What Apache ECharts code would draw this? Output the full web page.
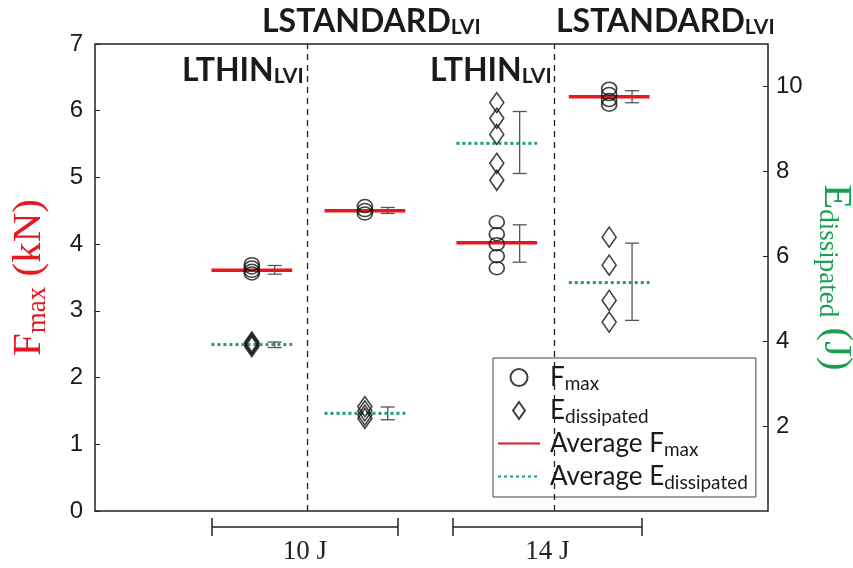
<!DOCTYPE html>
<html>
<head>
<meta charset="utf-8">
<script src="https://cdn.jsdelivr.net/npm/echarts@6/dist/echarts.min.js"></script>
<style>
html, body { margin: 0; padding: 0; background: #fff; }
#main { width: 853px; height: 568px; }
</style>
</head>
<body>
<div id="main"></div>
<script>
// x position of each specimen group (LTHIN 10J, LSTANDARD 10J, LTHIN 14J, LSTANDARD 14J)
var groupX = [2.33, 4.01, 5.97, 7.64];
var sepX = [3.16, 6.83];

// peak force, kN
var fmaxPoints = [
	[3.56, 3.60, 3.65, 3.70],
	[4.46, 4.51, 4.57],
	[3.64, 3.82, 4.00, 4.15, 4.33],
	[6.09, 6.16, 6.25, 6.33]
];
var fmaxAvg = [3.61, 4.50, 4.02, 6.21];
var fmaxErr = [[3.55, 3.68], [4.46, 4.55], [3.73, 4.29], [6.12, 6.30]];

// dissipated energy, J
var edisPoints = [
	[3.87, 3.91, 3.95, 3.98],
	[2.18, 2.26, 2.36, 2.46],
	[7.79, 8.19, 8.87, 9.25, 9.62],
	[4.45, 4.96, 5.79, 6.45]
];
var edisAvg = [3.92, 2.30, 8.66, 5.38];
var edisErr = [[3.85, 3.98], [2.15, 2.45], [7.95, 9.41], [4.49, 6.31]];

var RED = '#e8161e';
var GREEN = '#1e9e6e';
var NAME_GREEN = '#18a050';
var HALF = 0.6;     // half length of the average lines
var ERR_DX = 0.34;  // error bar offset from the markers

var myChart = echarts.init(document.getElementById('main'));

function pts(groups) {
	var out = [];
	groups.forEach(function (vals, i) {
		vals.forEach(function (v) { out.push([groupX[i], v]); });
	});
	return out;
}

function errBar(params, api) {
	var x = api.value(0);
	var p1 = api.coord([x, api.value(1)]);
	var p2 = api.coord([x, api.value(2)]);
	var w = 7;
	var st = { stroke: '#555', lineWidth: 1.3 };
	return {
		type: 'group',
		children: [
			{ type: 'line', shape: { x1: p1[0], y1: p1[1], x2: p2[0], y2: p2[1] }, style: st },
			{ type: 'line', shape: { x1: p1[0] - w, y1: p1[1], x2: p1[0] + w, y2: p1[1] }, style: st },
			{ type: 'line', shape: { x1: p2[0] - w, y1: p2[1], x2: p2[0] + w, y2: p2[1] }, style: st }
		]
	};
}

var series = [];

fmaxAvg.forEach(function (m, i) {
	series.push({
		name: 'Average Fmax',
		type: 'line',
		symbol: 'none',
		z: 2,
		lineStyle: { color: RED, width: 3.5 },
		itemStyle: { color: RED },
		data: [[groupX[i] - HALF, m], [groupX[i] + HALF, m]]
	});
});
edisAvg.forEach(function (m, i) {
	series.push({
		name: 'Average Edissipated',
		type: 'line',
		yAxisIndex: 1,
		symbol: 'none',
		z: 2,
		lineStyle: { color: GREEN, width: 3, type: [3, 3] },
		itemStyle: { color: GREEN },
		data: [[groupX[i] - HALF, m], [groupX[i] + HALF, m]]
	});
});

series.push({
	name: 'Fmax',
	type: 'scatter',
	symbol: 'circle',
	symbolSize: [15, 13],
	z: 3,
	itemStyle: { color: 'rgba(0,0,0,0)', borderColor: '#111', borderWidth: 1.6 },
	data: pts(fmaxPoints),
	markLine: {
		silent: true,
		symbol: 'none',
		label: { show: false },
		lineStyle: { color: '#222', width: 1.3, type: [6, 5] },
		data: sepX.map(function (x) { return { xAxis: x }; })
	}
});
series.push({
	name: 'Edissipated',
	type: 'scatter',
	yAxisIndex: 1,
	symbol: 'diamond',
	symbolSize: [14, 20],
	z: 3,
	itemStyle: { color: 'rgba(0,0,0,0)', borderColor: '#111', borderWidth: 1.6 },
	data: pts(edisPoints)
});

series.push({
	type: 'custom',
	renderItem: errBar,
	z: 1,
	encode: { x: 0, y: [1, 2] },
	data: fmaxErr.map(function (e, i) { return [groupX[i] + ERR_DX, e[0], e[1]]; })
});
series.push({
	type: 'custom',
	yAxisIndex: 1,
	renderItem: errBar,
	z: 1,
	encode: { x: 0, y: [1, 2] },
	data: edisErr.map(function (e, i) { return [groupX[i] + ERR_DX, e[0], e[1]]; })
});

var legendText = {
	'Fmax': 'F{sub|max}',
	'Edissipated': 'E{sub|dissipated}',
	'Average Fmax': 'Average F{sub|max}',
	'Average Edissipated': 'Average E{sub|dissipated}'
};

var topLbl = {
	fontFamily: 'Lato',
	fontWeight: 'bold',
	fontSize: 32,
	fill: '#1a1a1a',
	rich: {
		s: { fontFamily: 'Lato', fontWeight: 'bold', fontSize: 21, lineHeight: 14, verticalAlign: 'bottom' }
	}
};

function bracket(x1, x2, label) {
	var y = 527;
	var st = { stroke: '#222', lineWidth: 1.5 };
	return [
		{ type: 'line', shape: { x1: x1, y1: y, x2: x2, y2: y }, style: st },
		{ type: 'line', shape: { x1: x1, y1: y - 9, x2: x1, y2: y + 9 }, style: st },
		{ type: 'line', shape: { x1: x2, y1: y - 9, x2: x2, y2: y + 9 }, style: st },
		{ type: 'text', x: (x1 + x2) / 2, y: 552, style: { text: label, fontFamily: 'Liberation Serif', fontSize: 27, fill: '#222', align: 'center', verticalAlign: 'middle' } }
	];
}

var axisNameStyle = function (color) {
	return {
		fontFamily: 'Liberation Serif',
		fontSize: 41,
		color: color,
		lineHeight: 44,
		rich: { sub: { fontFamily: 'Liberation Serif', fontSize: 27, color: color, lineHeight: 20, verticalAlign: 'bottom' } }
	};
};

var option = {
	animation: false,
	backgroundColor: '#fff',
	grid: {
		left: 95, right: 85, top: 44, bottom: 57,
		outerBoundsMode: 'none',
		show: true, borderColor: '#222', borderWidth: 1.5, backgroundColor: 'transparent'
	},
	legend: {
		data: [
			{ name: 'Fmax' },
			{ name: 'Edissipated', icon: 'path://M7,0 L14,10 L7,20 L0,10 Z' },
			{ name: 'Average Fmax', itemStyle: { opacity: 0 } },
			{ name: 'Average Edissipated', itemStyle: { opacity: 0 } }
		],
		orient: 'vertical',
		left: 493,
		top: 358,
		padding: [4, 8, 5, 4],
		itemGap: 2,
		itemWidth: 42,
		itemHeight: 17,
		borderColor: '#444',
		borderWidth: 1,
		borderRadius: 0,
		backgroundColor: '#fff',
		selectedMode: false,
		formatter: function (name) { return legendText[name]; },
		textStyle: {
			fontFamily: 'Lato',
			fontSize: 26,
			color: '#1a1a1a',
			lineHeight: 31,
			padding: [0, 0, 0, 5],
			rich: {
				sub: { fontFamily: 'Lato', fontSize: 19, lineHeight: 16, verticalAlign: 'bottom', color: '#1a1a1a' }
			}
		}
	},
	xAxis: {
		type: 'value',
		min: 0,
		max: 10,
		axisLine: { show: false },
		axisTick: { show: false },
		axisLabel: { show: false },
		splitLine: { show: false }
	},
	yAxis: [
		{
			type: 'value',
			min: 0,
			max: 7,
			interval: 1,
			name: 'F{sub|max} (kN)',
			nameLocation: 'middle',
			nameGap: 44,
			nameTextStyle: axisNameStyle(RED),
			axisLine: { show: false },
			axisTick: { show: true, inside: true, length: 5, lineStyle: { color: '#222' } },
			axisLabel: { fontFamily: 'Liberation Sans', fontSize: 24, color: '#1a1a1a', margin: 12 },
			splitLine: { show: false }
		},
		{
			type: 'value',
			min: 0,
			max: 11,
			interval: 2,
			position: 'right',
			name: 'E{sub|dissipated} (J)',
			nameLocation: 'middle',
			nameRotate: -90,
			nameGap: 38,
			nameTextStyle: axisNameStyle(NAME_GREEN),
			axisLine: { show: false },
			axisTick: { show: true, inside: true, length: 5, lineStyle: { color: '#222' } },
			axisLabel: { fontFamily: 'Liberation Sans', fontSize: 24, color: '#1a1a1a', margin: 8, showMinLabel: false, showMaxLabel: false },
			splitLine: { show: false }
		}
	],
	graphic: [
		{ type: 'text', x: 262, y: 6, z: 10, style: Object.assign({ text: 'LSTANDARD{s|LVI}' }, topLbl) },
		{ type: 'text', x: 556, y: 6, z: 10, style: Object.assign({ text: 'LSTANDARD{s|LVI}' }, topLbl) },
		{ type: 'text', x: 182, y: 55, z: 10, style: Object.assign({ text: 'LTHIN{s|LVI}' }, topLbl) },
		{ type: 'text', x: 430, y: 55, z: 10, style: Object.assign({ text: 'LTHIN{s|LVI}' }, topLbl) }
	].concat(bracket(212, 398, '10 J'), bracket(453, 642, '14 J')),
	series: series
};

myChart.setOption(option);
</script>
</body>
</html>
